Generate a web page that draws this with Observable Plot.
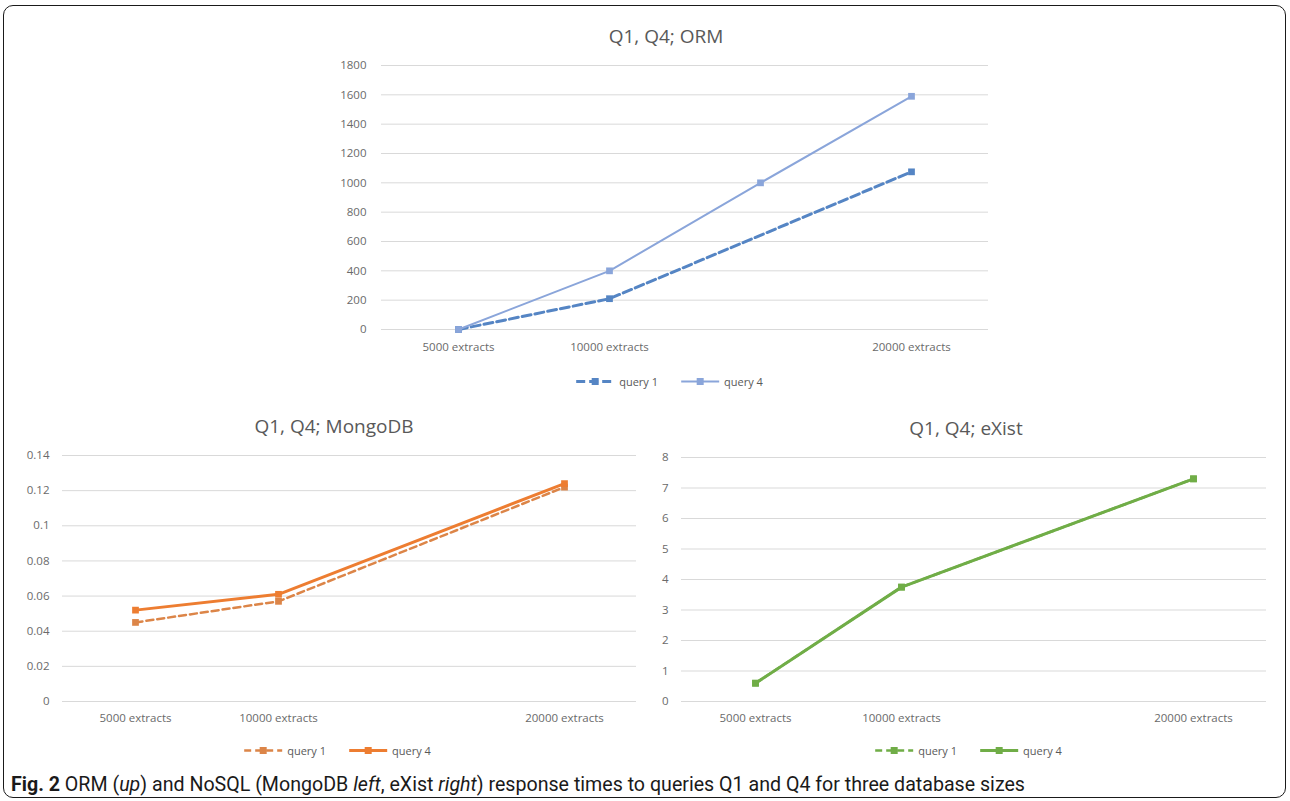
<!DOCTYPE html>
<html>
<head>
<meta charset="utf-8">
<script src="https://cdn.jsdelivr.net/npm/d3@7"></script>
<script src="https://cdn.jsdelivr.net/npm/@observablehq/plot@0.6"></script>
<style>
html, body { margin: 0; padding: 0; background: #fff; }
#fig { position: relative; width: 1290px; height: 801px; overflow: hidden; font-family: "Open Sans", sans-serif; }
.frame { position: absolute; left: 3px; top: 5px; width: 1283px; height: 793px; border: 1.5px solid #1a1a1a; border-radius: 10px; box-sizing: border-box; }
.title { position: absolute; transform: translate(-50%, -50%); font-size: 19px; color: #595959; white-space: nowrap; }
.legend { position: absolute; transform: translate(-50%, -50%); display: flex; align-items: center; font-size: 11px; color: #595959; white-space: nowrap; }
.legend .item { display: flex; align-items: center; margin: 0 11px; }
.legend svg { margin-right: 4px; }
.chart { position: absolute; }
.caption { position: absolute; left: 11px; top: 772px; font-family: Roboto, "Open Sans", sans-serif; font-size: 20px; color: #1a1a1a; white-space: nowrap; transform-origin: left center; }
</style>
</head>
<body>
<div id="fig"><div class="frame"></div></div>
<script>
// ---- data ----
const categories = ["5000 extracts", "10000 extracts", " ", "20000 extracts"];
const seriesNames = ["query 1", "query 4"];

const ormQuery1 = [0, 210, null, 1075];
const ormQuery4 = [0, 400, 1000, 1590];
const ormTicks = [0, 200, 400, 600, 800, 1000, 1200, 1400, 1600, 1800];

const mongoQuery1 = [0.045, 0.057, null, 0.122];
const mongoQuery4 = [0.052, 0.061, null, 0.124];
const mongoTicks = [0, 0.02, 0.04, 0.06, 0.08, 0.1, 0.12, 0.14];

const existQuery1 = [0.6, 3.75, null, 7.3];
const existQuery4 = [0.6, 3.75, null, 7.3];
const existTicks = [0, 1, 2, 3, 4, 5, 6, 7, 8];

const titles = ["Q1, Q4; ORM", "Q1, Q4; MongoDB", "Q1, Q4; eXist"];
// ---------------

const fig = document.getElementById("fig");

function rows(vals, s) {
  return categories.map((c, i) => ({cat: c, v: vals[i], s})).filter(d => d.v != null);
}

function makeChart(o) {
  const d1 = rows(o.q1, seriesNames[0]);
  const d4 = rows(o.q4, seriesNames[1]);
  const chart = Plot.plot({
    width: o.width, height: o.height,
    marginLeft: o.ml, marginRight: o.mr, marginTop: o.mt, marginBottom: o.mb,
    style: {fontFamily: "Open Sans, sans-serif", fontSize: "11.5px", color: "#6a6a6a", background: "transparent", overflow: "visible"},
    x: {type: "point", domain: categories, padding: 0.5, label: null, tickSize: 0, tickPadding: o.padX},
    y: {domain: [o.ticks[0], o.ticks[o.ticks.length - 1]], ticks: o.ticks, label: null, tickSize: 0, tickPadding: o.padY, tickFormat: d => String(d)},
    marks: [
      Plot.gridY(o.ticks, {stroke: "#d9d9d9", strokeOpacity: 1, strokeWidth: 1}),
      Plot.lineY(d1, {x: "cat", y: "v", stroke: o.c1, strokeWidth: o.w1, strokeDasharray: o.dash1}),
      Plot.dot(d1, {x: "cat", y: "v", symbol: "square", fill: o.c1, r: 3.8}),
      Plot.lineY(d4, {x: "cat", y: "v", stroke: o.c4, strokeWidth: o.w4}),
      Plot.dot(d4, {x: "cat", y: "v", symbol: "square", fill: o.c4, r: 3.8})
    ]
  });
  chart.classList.add("chart");
  chart.style.left = o.left + "px";
  chart.style.top = o.top + "px";
  fig.appendChild(chart);
}

function addTitle(text, cx, cy) {
  const d = document.createElement("div");
  d.className = "title";
  d.textContent = text;
  d.style.left = cx + "px";
  d.style.top = cy + "px";
  fig.appendChild(d);
}

function swatch(color, width, dash) {
  const ns = "http://www.w3.org/2000/svg";
  const s = document.createElementNS(ns, "svg");
  s.setAttribute("width", 40); s.setAttribute("height", 10);
  const l = document.createElementNS(ns, "line");
  l.setAttribute("x1", 1); l.setAttribute("x2", 39); l.setAttribute("y1", 5); l.setAttribute("y2", 5);
  l.setAttribute("stroke", color); l.setAttribute("stroke-width", width);
  if (dash) l.setAttribute("stroke-dasharray", dash);
  s.appendChild(l);
  const r = document.createElementNS(ns, "rect");
  r.setAttribute("x", 16.5); r.setAttribute("y", 1.5); r.setAttribute("width", 7); r.setAttribute("height", 7);
  r.setAttribute("fill", color);
  s.appendChild(r);
  return s;
}

function addLegend(cx, cy, o) {
  const d = document.createElement("div");
  d.className = "legend";
  d.style.left = cx + "px";
  d.style.top = cy + "px";
  [[o.c1, o.w1, o.dash1], [o.c4, o.w4, null]].forEach((st, i) => {
    const it = document.createElement("div");
    it.className = "item";
    it.appendChild(swatch(st[0], st[1], st[2]));
    const t = document.createElement("span");
    t.textContent = seriesNames[i];
    it.appendChild(t);
    d.appendChild(it);
  });
  fig.appendChild(d);
}

const orm = {q1: ormQuery1, q4: ormQuery4, ticks: ormTicks,
  left: 330, top: 50, width: 680, height: 320, ml: 51, mr: 22, mt: 15, mb: 41, padX: 13, padY: 15,
  c1: "#5585c4", c4: "#8aa5da", w1: 3, w4: 2, dash1: "9,4"};
const mongo = {q1: mongoQuery1, q4: mongoQuery4, ticks: mongoTicks,
  left: 0, top: 440, width: 650, height: 300, ml: 62, mr: 14, mt: 15, mb: 39, padX: 12, padY: 13,
  c1: "#dc8548", c4: "#ed7d31", w1: 2.5, w4: 3, dash1: "7,4"};
const exist = {q1: existQuery1, q4: existQuery4, ticks: existTicks,
  left: 650, top: 442, width: 640, height: 300, ml: 31, mr: 24, mt: 15, mb: 41, padX: 12, padY: 13,
  c1: "#70ad47", c4: "#70ad47", w1: 2.5, w4: 3, dash1: "7,4"};

makeChart(orm); makeChart(mongo); makeChart(exist);
addTitle(titles[0], 666, 36);
addTitle(titles[1], 334, 426);
addTitle(titles[2], 966, 428);
addLegend(669, 381, orm);
addLegend(337, 750, mongo);
addLegend(968, 750, exist);

const cap = document.createElement("div");
cap.className = "caption";
cap.innerHTML = "<b>Fig. 2</b> ORM (<i>up</i>) and NoSQL (MongoDB <i>left</i>, eXist <i>right</i>) response times to queries Q1 and Q4 for three database sizes";
fig.appendChild(cap);
const capW = cap.getBoundingClientRect().width;
cap.style.transform = "scaleX(" + (1014 / capW) + ")";
</script>
</body>
</html>
